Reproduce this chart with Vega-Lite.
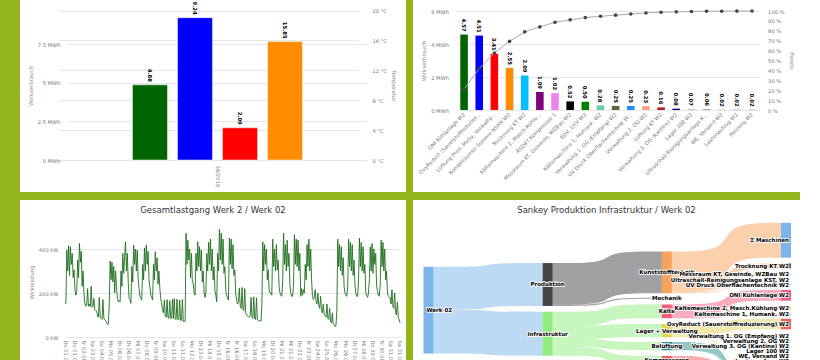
{
"$schema":"https://vega.github.io/schema/vega-lite/v6.json",
"background":"#94b41c",
"padding":{"left":20,"top":0,"right":0,"bottom":0},
"columns":2,
"spacing":{"row":8,"column":7},
"bounds":"flush",
"resolve":{"scale":{"color":"independent"}},
"config":{
 "font":"DejaVu Sans",
 "view":{"fill":"white","stroke":null},
 "axis":{"labelFont":"DejaVu Sans","labelFontSize":5.2,"labelColor":"#777","titleFont":"DejaVu Sans","titleFontSize":5.5,"titleColor":"#888","titleFontWeight":"normal","domain":false,"ticks":false,"gridColor":"#e6e6e6","gridWidth":1,"labelOverlap":false},
 "title":{"font":"DejaVu Sans","fontSize":8.5,"fontWeight":"normal","color":"#333","anchor":"middle","baseline":"top","offset":-14}
},
"datasets":{
 "last":[
{"t":"2019-08-01T00:00","kw":155},{"t":"2019-08-01T02:00","kw":152},{"t":"2019-08-01T04:00","kw":395},{"t":"2019-08-01T06:00","kw":300},{"t":"2019-08-01T08:00","kw":415},{"t":"2019-08-01T10:00","kw":280},{"t":"2019-08-01T12:00","kw":410},{"t":"2019-08-01T14:00","kw":330},{"t":"2019-08-01T16:00","kw":380},{"t":"2019-08-01T18:00","kw":270},{"t":"2019-08-01T20:00","kw":305},{"t":"2019-08-01T22:00","kw":215},
{"t":"2019-08-02T00:00","kw":190},{"t":"2019-08-02T02:00","kw":205},{"t":"2019-08-02T04:00","kw":350},{"t":"2019-08-02T06:00","kw":270},{"t":"2019-08-02T08:00","kw":425},{"t":"2019-08-02T10:00","kw":340},{"t":"2019-08-02T12:00","kw":390},{"t":"2019-08-02T14:00","kw":230},{"t":"2019-08-02T16:00","kw":300},{"t":"2019-08-02T18:00","kw":200},{"t":"2019-08-02T20:00","kw":150},{"t":"2019-08-02T22:00","kw":140},
{"t":"2019-08-03T00:00","kw":145},{"t":"2019-08-03T02:00","kw":220},{"t":"2019-08-03T04:00","kw":140},{"t":"2019-08-03T06:00","kw":150},{"t":"2019-08-03T08:00","kw":138},{"t":"2019-08-03T10:00","kw":230},{"t":"2019-08-03T12:00","kw":135},{"t":"2019-08-03T14:00","kw":140},{"t":"2019-08-03T16:00","kw":175},{"t":"2019-08-03T18:00","kw":125},{"t":"2019-08-03T20:00","kw":120},{"t":"2019-08-03T22:00","kw":118},
{"t":"2019-08-04T00:00","kw":95},{"t":"2019-08-04T02:00","kw":90},{"t":"2019-08-04T04:00","kw":180},{"t":"2019-08-04T06:00","kw":88},{"t":"2019-08-04T08:00","kw":85},{"t":"2019-08-04T10:00","kw":80},{"t":"2019-08-04T12:00","kw":170},{"t":"2019-08-04T14:00","kw":85},{"t":"2019-08-04T16:00","kw":78},{"t":"2019-08-04T18:00","kw":75},{"t":"2019-08-04T20:00","kw":65},{"t":"2019-08-04T22:00","kw":58},
{"t":"2019-08-05T00:00","kw":58},{"t":"2019-08-05T02:00","kw":150},{"t":"2019-08-05T04:00","kw":345},{"t":"2019-08-05T06:00","kw":260},{"t":"2019-08-05T08:00","kw":340},{"t":"2019-08-05T10:00","kw":250},{"t":"2019-08-05T12:00","kw":320},{"t":"2019-08-05T14:00","kw":200},{"t":"2019-08-05T16:00","kw":300},{"t":"2019-08-05T18:00","kw":230},{"t":"2019-08-05T20:00","kw":175},{"t":"2019-08-05T22:00","kw":160},
{"t":"2019-08-06T00:00","kw":165},{"t":"2019-08-06T02:00","kw":160},{"t":"2019-08-06T04:00","kw":300},{"t":"2019-08-06T06:00","kw":230},{"t":"2019-08-06T08:00","kw":380},{"t":"2019-08-06T10:00","kw":290},{"t":"2019-08-06T12:00","kw":365},{"t":"2019-08-06T14:00","kw":433},{"t":"2019-08-06T16:00","kw":300},{"t":"2019-08-06T18:00","kw":380},{"t":"2019-08-06T20:00","kw":250},{"t":"2019-08-06T22:00","kw":175},
{"t":"2019-08-07T00:00","kw":170},{"t":"2019-08-07T02:00","kw":153},{"t":"2019-08-07T04:00","kw":320},{"t":"2019-08-07T06:00","kw":250},{"t":"2019-08-07T08:00","kw":418},{"t":"2019-08-07T10:00","kw":330},{"t":"2019-08-07T12:00","kw":400},{"t":"2019-08-07T14:00","kw":300},{"t":"2019-08-07T16:00","kw":395},{"t":"2019-08-07T18:00","kw":260},{"t":"2019-08-07T20:00","kw":220},{"t":"2019-08-07T22:00","kw":185},
{"t":"2019-08-08T00:00","kw":175},{"t":"2019-08-08T02:00","kw":168},{"t":"2019-08-08T04:00","kw":330},{"t":"2019-08-08T06:00","kw":260},{"t":"2019-08-08T08:00","kw":405},{"t":"2019-08-08T10:00","kw":300},{"t":"2019-08-08T12:00","kw":418},{"t":"2019-08-08T14:00","kw":330},{"t":"2019-08-08T16:00","kw":390},{"t":"2019-08-08T18:00","kw":260},{"t":"2019-08-08T20:00","kw":230},{"t":"2019-08-08T22:00","kw":190},
{"t":"2019-08-09T00:00","kw":180},{"t":"2019-08-09T02:00","kw":168},{"t":"2019-08-09T04:00","kw":330},{"t":"2019-08-09T06:00","kw":260},{"t":"2019-08-09T08:00","kw":388},{"t":"2019-08-09T10:00","kw":300},{"t":"2019-08-09T12:00","kw":360},{"t":"2019-08-09T14:00","kw":240},{"t":"2019-08-09T16:00","kw":300},{"t":"2019-08-09T18:00","kw":222},{"t":"2019-08-09T20:00","kw":175},{"t":"2019-08-09T22:00","kw":150},
{"t":"2019-08-10T00:00","kw":125},{"t":"2019-08-10T02:00","kw":110},{"t":"2019-08-10T04:00","kw":168},{"t":"2019-08-10T06:00","kw":95},{"t":"2019-08-10T08:00","kw":90},{"t":"2019-08-10T10:00","kw":170},{"t":"2019-08-10T12:00","kw":88},{"t":"2019-08-10T14:00","kw":85},{"t":"2019-08-10T16:00","kw":165},{"t":"2019-08-10T18:00","kw":86},{"t":"2019-08-10T20:00","kw":84},{"t":"2019-08-10T22:00","kw":170},
{"t":"2019-08-11T00:00","kw":85},{"t":"2019-08-11T02:00","kw":175},{"t":"2019-08-11T04:00","kw":82},{"t":"2019-08-11T06:00","kw":80},{"t":"2019-08-11T08:00","kw":172},{"t":"2019-08-11T10:00","kw":78},{"t":"2019-08-11T12:00","kw":80},{"t":"2019-08-11T14:00","kw":168},{"t":"2019-08-11T16:00","kw":76},{"t":"2019-08-11T18:00","kw":75},{"t":"2019-08-11T20:00","kw":170},{"t":"2019-08-11T22:00","kw":70},
{"t":"2019-08-12T00:00","kw":72},{"t":"2019-08-12T02:00","kw":70},{"t":"2019-08-12T04:00","kw":472},{"t":"2019-08-12T06:00","kw":330},{"t":"2019-08-12T08:00","kw":440},{"t":"2019-08-12T10:00","kw":350},{"t":"2019-08-12T12:00","kw":400},{"t":"2019-08-12T14:00","kw":270},{"t":"2019-08-12T16:00","kw":380},{"t":"2019-08-12T18:00","kw":250},{"t":"2019-08-12T20:00","kw":245},{"t":"2019-08-12T22:00","kw":200},
{"t":"2019-08-13T00:00","kw":190},{"t":"2019-08-13T02:00","kw":380},{"t":"2019-08-13T04:00","kw":300},{"t":"2019-08-13T06:00","kw":433},{"t":"2019-08-13T08:00","kw":320},{"t":"2019-08-13T10:00","kw":410},{"t":"2019-08-13T12:00","kw":300},{"t":"2019-08-13T14:00","kw":395},{"t":"2019-08-13T16:00","kw":250},{"t":"2019-08-13T18:00","kw":300},{"t":"2019-08-13T20:00","kw":200},{"t":"2019-08-13T22:00","kw":180},
{"t":"2019-08-14T00:00","kw":200},{"t":"2019-08-14T02:00","kw":380},{"t":"2019-08-14T04:00","kw":300},{"t":"2019-08-14T06:00","kw":430},{"t":"2019-08-14T08:00","kw":330},{"t":"2019-08-14T10:00","kw":445},{"t":"2019-08-14T12:00","kw":300},{"t":"2019-08-14T14:00","kw":400},{"t":"2019-08-14T16:00","kw":260},{"t":"2019-08-14T18:00","kw":320},{"t":"2019-08-14T20:00","kw":210},{"t":"2019-08-14T22:00","kw":190},
{"t":"2019-08-15T00:00","kw":160},{"t":"2019-08-15T02:00","kw":380},{"t":"2019-08-15T04:00","kw":300},{"t":"2019-08-15T06:00","kw":490},{"t":"2019-08-15T08:00","kw":350},{"t":"2019-08-15T10:00","kw":472},{"t":"2019-08-15T12:00","kw":330},{"t":"2019-08-15T14:00","kw":445},{"t":"2019-08-15T16:00","kw":290},{"t":"2019-08-15T18:00","kw":320},{"t":"2019-08-15T20:00","kw":210},{"t":"2019-08-15T22:00","kw":190},
{"t":"2019-08-16T00:00","kw":175},{"t":"2019-08-16T02:00","kw":168},{"t":"2019-08-16T04:00","kw":450},{"t":"2019-08-16T06:00","kw":330},{"t":"2019-08-16T08:00","kw":445},{"t":"2019-08-16T10:00","kw":310},{"t":"2019-08-16T12:00","kw":420},{"t":"2019-08-16T14:00","kw":280},{"t":"2019-08-16T16:00","kw":305},{"t":"2019-08-16T18:00","kw":200},{"t":"2019-08-16T20:00","kw":168},{"t":"2019-08-16T22:00","kw":150},
{"t":"2019-08-17T00:00","kw":160},{"t":"2019-08-17T02:00","kw":222},{"t":"2019-08-17T04:00","kw":140},{"t":"2019-08-17T06:00","kw":130},{"t":"2019-08-17T08:00","kw":225},{"t":"2019-08-17T10:00","kw":125},{"t":"2019-08-17T12:00","kw":120},{"t":"2019-08-17T14:00","kw":220},{"t":"2019-08-17T16:00","kw":110},{"t":"2019-08-17T18:00","kw":100},{"t":"2019-08-17T20:00","kw":95},{"t":"2019-08-17T22:00","kw":92},
{"t":"2019-08-18T00:00","kw":90},{"t":"2019-08-18T02:00","kw":95},{"t":"2019-08-18T04:00","kw":180},{"t":"2019-08-18T06:00","kw":88},{"t":"2019-08-18T08:00","kw":85},{"t":"2019-08-18T10:00","kw":182},{"t":"2019-08-18T12:00","kw":82},{"t":"2019-08-18T14:00","kw":80},{"t":"2019-08-18T16:00","kw":178},{"t":"2019-08-18T18:00","kw":78},{"t":"2019-08-18T20:00","kw":75},{"t":"2019-08-18T22:00","kw":72},
{"t":"2019-08-19T00:00","kw":75},{"t":"2019-08-19T02:00","kw":72},{"t":"2019-08-19T04:00","kw":150},{"t":"2019-08-19T06:00","kw":433},{"t":"2019-08-19T08:00","kw":300},{"t":"2019-08-19T10:00","kw":420},{"t":"2019-08-19T12:00","kw":330},{"t":"2019-08-19T14:00","kw":400},{"t":"2019-08-19T16:00","kw":260},{"t":"2019-08-19T18:00","kw":305},{"t":"2019-08-19T20:00","kw":214},{"t":"2019-08-19T22:00","kw":200},
{"t":"2019-08-20T00:00","kw":200},{"t":"2019-08-20T02:00","kw":190},{"t":"2019-08-20T04:00","kw":445},{"t":"2019-08-20T06:00","kw":320},{"t":"2019-08-20T08:00","kw":400},{"t":"2019-08-20T10:00","kw":300},{"t":"2019-08-20T12:00","kw":420},{"t":"2019-08-20T14:00","kw":305},{"t":"2019-08-20T16:00","kw":350},{"t":"2019-08-20T18:00","kw":230},{"t":"2019-08-20T20:00","kw":200},{"t":"2019-08-20T22:00","kw":190},
{"t":"2019-08-21T00:00","kw":185},{"t":"2019-08-21T02:00","kw":250},{"t":"2019-08-21T04:00","kw":472},{"t":"2019-08-21T06:00","kw":330},{"t":"2019-08-21T08:00","kw":420},{"t":"2019-08-21T10:00","kw":300},{"t":"2019-08-21T12:00","kw":440},{"t":"2019-08-21T14:00","kw":320},{"t":"2019-08-21T16:00","kw":380},{"t":"2019-08-21T18:00","kw":240},{"t":"2019-08-21T20:00","kw":200},{"t":"2019-08-21T22:00","kw":185},
{"t":"2019-08-22T00:00","kw":185},{"t":"2019-08-22T02:00","kw":230},{"t":"2019-08-22T04:00","kw":465},{"t":"2019-08-22T06:00","kw":330},{"t":"2019-08-22T08:00","kw":445},{"t":"2019-08-22T10:00","kw":320},{"t":"2019-08-22T12:00","kw":440},{"t":"2019-08-22T14:00","kw":300},{"t":"2019-08-22T16:00","kw":380},{"t":"2019-08-22T18:00","kw":185},{"t":"2019-08-22T20:00","kw":220},{"t":"2019-08-22T22:00","kw":190},
{"t":"2019-08-23T00:00","kw":215},{"t":"2019-08-23T02:00","kw":200},{"t":"2019-08-23T04:00","kw":330},{"t":"2019-08-23T06:00","kw":260},{"t":"2019-08-23T08:00","kw":420},{"t":"2019-08-23T10:00","kw":320},{"t":"2019-08-23T12:00","kw":445},{"t":"2019-08-23T14:00","kw":300},{"t":"2019-08-23T16:00","kw":400},{"t":"2019-08-23T18:00","kw":260},{"t":"2019-08-23T20:00","kw":185},{"t":"2019-08-23T22:00","kw":170},
{"t":"2019-08-24T00:00","kw":180},{"t":"2019-08-24T02:00","kw":215},{"t":"2019-08-24T04:00","kw":160},{"t":"2019-08-24T06:00","kw":150},{"t":"2019-08-24T08:00","kw":200},{"t":"2019-08-24T10:00","kw":140},{"t":"2019-08-24T12:00","kw":130},{"t":"2019-08-24T14:00","kw":185},{"t":"2019-08-24T16:00","kw":120},{"t":"2019-08-24T18:00","kw":110},{"t":"2019-08-24T20:00","kw":150},{"t":"2019-08-24T22:00","kw":100},
{"t":"2019-08-25T00:00","kw":95},{"t":"2019-08-25T02:00","kw":90},{"t":"2019-08-25T04:00","kw":150},{"t":"2019-08-25T06:00","kw":85},{"t":"2019-08-25T08:00","kw":80},{"t":"2019-08-25T10:00","kw":130},{"t":"2019-08-25T12:00","kw":70},{"t":"2019-08-25T14:00","kw":65},{"t":"2019-08-25T16:00","kw":110},{"t":"2019-08-25T18:00","kw":60},{"t":"2019-08-25T20:00","kw":55},{"t":"2019-08-25T22:00","kw":48},
{"t":"2019-08-26T00:00","kw":50},{"t":"2019-08-26T02:00","kw":120},{"t":"2019-08-26T04:00","kw":445},{"t":"2019-08-26T06:00","kw":320},{"t":"2019-08-26T08:00","kw":420},{"t":"2019-08-26T10:00","kw":300},{"t":"2019-08-26T12:00","kw":410},{"t":"2019-08-26T14:00","kw":280},{"t":"2019-08-26T16:00","kw":360},{"t":"2019-08-26T18:00","kw":230},{"t":"2019-08-26T20:00","kw":200},{"t":"2019-08-26T22:00","kw":190},
{"t":"2019-08-27T00:00","kw":185},{"t":"2019-08-27T02:00","kw":230},{"t":"2019-08-27T04:00","kw":445},{"t":"2019-08-27T06:00","kw":320},{"t":"2019-08-27T08:00","kw":430},{"t":"2019-08-27T10:00","kw":300},{"t":"2019-08-27T12:00","kw":420},{"t":"2019-08-27T14:00","kw":280},{"t":"2019-08-27T16:00","kw":350},{"t":"2019-08-27T18:00","kw":240},{"t":"2019-08-27T20:00","kw":200},{"t":"2019-08-27T22:00","kw":185},
{"t":"2019-08-28T00:00","kw":185},{"t":"2019-08-28T02:00","kw":260},{"t":"2019-08-28T04:00","kw":450},{"t":"2019-08-28T06:00","kw":320},{"t":"2019-08-28T08:00","kw":430},{"t":"2019-08-28T10:00","kw":300},{"t":"2019-08-28T12:00","kw":410},{"t":"2019-08-28T14:00","kw":290},{"t":"2019-08-28T16:00","kw":330},{"t":"2019-08-28T18:00","kw":200},{"t":"2019-08-28T20:00","kw":190},{"t":"2019-08-28T22:00","kw":180},
{"t":"2019-08-29T00:00","kw":200},{"t":"2019-08-29T02:00","kw":260},{"t":"2019-08-29T04:00","kw":410},{"t":"2019-08-29T06:00","kw":300},{"t":"2019-08-29T08:00","kw":425},{"t":"2019-08-29T10:00","kw":290},{"t":"2019-08-29T12:00","kw":400},{"t":"2019-08-29T14:00","kw":330},{"t":"2019-08-29T16:00","kw":380},{"t":"2019-08-29T18:00","kw":230},{"t":"2019-08-29T20:00","kw":210},{"t":"2019-08-29T22:00","kw":190},
{"t":"2019-08-30T00:00","kw":185},{"t":"2019-08-30T02:00","kw":240},{"t":"2019-08-30T04:00","kw":440},{"t":"2019-08-30T06:00","kw":320},{"t":"2019-08-30T08:00","kw":430},{"t":"2019-08-30T10:00","kw":300},{"t":"2019-08-30T12:00","kw":400},{"t":"2019-08-30T14:00","kw":260},{"t":"2019-08-30T16:00","kw":300},{"t":"2019-08-30T18:00","kw":200},{"t":"2019-08-30T20:00","kw":185},{"t":"2019-08-30T22:00","kw":180},
{"t":"2019-08-31T00:00","kw":180},{"t":"2019-08-31T02:00","kw":150},{"t":"2019-08-31T04:00","kw":215},{"t":"2019-08-31T06:00","kw":140},{"t":"2019-08-31T08:00","kw":130},{"t":"2019-08-31T10:00","kw":200},{"t":"2019-08-31T12:00","kw":110},{"t":"2019-08-31T14:00","kw":100},{"t":"2019-08-31T16:00","kw":160},{"t":"2019-08-31T18:00","kw":90},{"t":"2019-08-31T20:00","kw":80},{"t":"2019-08-31T22:00","kw":64}
 ],
 "nodes":[
{"node":"Werk 02","col":0,"y0":20.0,"y1":57.10,"mid":38.55},
{"node":"Produktion","col":1,"y0":18.4,"y1":36.72,"mid":27.56},
{"node":"Infrastruktur","col":1,"y0":39.2,"y1":57.98,"mid":48.59},
{"node":"Kunststofftechnik","col":2,"y0":13.5,"y1":31.32,"mid":22.41},
{"node":"Mechanik","col":2,"y0":33.2,"y1":33.7,"mid":33.45},
{"node":"Kälte","col":2,"y0":36.1,"y1":42.04,"mid":39.07},
{"node":"Lager + Verwaltung","col":2,"y0":44.4,"y1":50.1,"mid":47.25},
{"node":"Belüftung","col":2,"y0":52.1,"y1":55.67,"mid":53.89},
{"node":"Kompressoren","col":2,"y0":58.1,"y1":61.67,"mid":59.89},
{"node":"Σ Maschinen","col":3,"y0":1.2,"y1":16.1,"mid":8.65},
{"node":"Trocknung KT W2","col":3,"y0":18.6,"y1":20.69,"mid":19.65},
{"node":"Messraum KT, Gewinde, WZBau W2","col":3,"y0":22.9,"y1":23.42,"mid":23.16},
{"node":"Ultraschall-Reinigungsanlage KST, W2","col":3,"y0":25.4,"y1":25.46,"mid":25.43},
{"node":"UV Druck Oberflächentechnik W2","col":3,"y0":27.6,"y1":27.85,"mid":27.73},
{"node":"ONI Kühlanlage W2","col":3,"y0":29.9,"y1":34.47,"mid":32.19},
{"node":"Kältemaschine 2, Masch.Kühlung W2","col":3,"y0":37.0,"y1":38.09,"mid":37.55},
{"node":"Kältemaschine 1, Humank. W2","col":3,"y0":40.2,"y1":40.48,"mid":40.34},
{"node":"OxyReduct (Sauerstoffreduzierung) W2","col":3,"y0":42.2,"y1":46.71,"mid":44.46},
{"node":"Verwaltung 1. OG (Empfang) W2","col":3,"y0":49.3,"y1":49.55,"mid":49.43},
{"node":"Verwaltung 2. OG W2","col":3,"y0":51.6,"y1":51.83,"mid":51.72},
{"node":"Verwaltung 3. OG (Kantine) W2","col":3,"y0":53.95,"y1":54.03,"mid":53.99},
{"node":"Lager 100 W2","col":3,"y0":55.95,"y1":56.02,"mid":55.99},
{"node":"WE, Versand W2","col":3,"y0":57.98,"y1":58.0,"mid":57.99},
{"node":"Lastenaufzug W2","col":3,"y0":60.3,"y1":60.32,"mid":60.31},
{"node":"Heizung W2","col":3,"y0":62.5,"y1":62.52,"mid":62.51},
{"node":"EDV, USV W2","col":3,"y0":64.5,"y1":65.0,"mid":64.75},
{"node":"Lüftung Prod. MoSy, Verwaltg. W2","col":3,"y0":67.0,"y1":70.41,"mid":68.7},
{"node":"Lüftung KT W2","col":3,"y0":72.5,"y1":72.66,"mid":72.58},
{"node":"Kompressoren Summe NSHV W2","col":3,"y0":75.0,"y1":77.55,"mid":76.28},
{"node":"ASD47 Kompressor 1","col":3,"y0":79.5,"y1":80.52,"mid":80.01}
 ],
 "links":[
{"link":"L1","src":"Werk 02","x":0.041,"y0":20.0,"y1":38.32},{"link":"L1","src":"Werk 02","x":0.49,"y0":20.0,"y1":38.32},{"link":"L1","src":"Werk 02","x":0.51,"y0":18.4,"y1":36.72},{"link":"L1","src":"Werk 02","x":0.959,"y0":18.4,"y1":36.72},
{"link":"L2","src":"Werk 02","x":0.041,"y0":38.32,"y1":57.10},{"link":"L2","src":"Werk 02","x":0.49,"y0":38.32,"y1":57.10},{"link":"L2","src":"Werk 02","x":0.51,"y0":39.2,"y1":57.98},{"link":"L2","src":"Werk 02","x":0.959,"y0":39.2,"y1":57.98},
{"link":"L3","src":"Produktion","x":1.041,"y0":18.4,"y1":36.22},{"link":"L3","src":"Produktion","x":1.49,"y0":18.4,"y1":36.22},{"link":"L3","src":"Produktion","x":1.51,"y0":13.5,"y1":31.32},{"link":"L3","src":"Produktion","x":1.959,"y0":13.5,"y1":31.32},
{"link":"L4","src":"Produktion","x":1.041,"y0":36.22,"y1":36.72},{"link":"L4","src":"Produktion","x":1.49,"y0":36.22,"y1":36.72},{"link":"L4","src":"Produktion","x":1.51,"y0":33.2,"y1":33.7},{"link":"L4","src":"Produktion","x":1.959,"y0":33.2,"y1":33.7},
{"link":"L5","src":"Infrastruktur","x":1.041,"y0":39.2,"y1":45.14},{"link":"L5","src":"Infrastruktur","x":1.49,"y0":39.2,"y1":45.14},{"link":"L5","src":"Infrastruktur","x":1.51,"y0":36.1,"y1":42.04},{"link":"L5","src":"Infrastruktur","x":1.959,"y0":36.1,"y1":42.04},
{"link":"L6","src":"Infrastruktur","x":1.041,"y0":45.14,"y1":50.84},{"link":"L6","src":"Infrastruktur","x":1.49,"y0":45.14,"y1":50.84},{"link":"L6","src":"Infrastruktur","x":1.51,"y0":44.4,"y1":50.1},{"link":"L6","src":"Infrastruktur","x":1.959,"y0":44.4,"y1":50.1},
{"link":"L7","src":"Infrastruktur","x":1.041,"y0":50.84,"y1":54.41},{"link":"L7","src":"Infrastruktur","x":1.49,"y0":50.84,"y1":54.41},{"link":"L7","src":"Infrastruktur","x":1.51,"y0":52.1,"y1":55.67},{"link":"L7","src":"Infrastruktur","x":1.959,"y0":52.1,"y1":55.67},
{"link":"L8","src":"Infrastruktur","x":1.041,"y0":54.41,"y1":57.98},{"link":"L8","src":"Infrastruktur","x":1.49,"y0":54.41,"y1":57.98},{"link":"L8","src":"Infrastruktur","x":1.51,"y0":58.1,"y1":61.67},{"link":"L8","src":"Infrastruktur","x":1.959,"y0":58.1,"y1":61.67},
{"link":"L9","src":"Kunststofftechnik","x":2.041,"y0":13.5,"y1":28.4},{"link":"L9","src":"Kunststofftechnik","x":2.49,"y0":13.5,"y1":28.4},{"link":"L9","src":"Kunststofftechnik","x":2.51,"y0":1.2,"y1":16.1},{"link":"L9","src":"Kunststofftechnik","x":2.959,"y0":1.2,"y1":16.1},
{"link":"L10","src":"Kunststofftechnik","x":2.041,"y0":28.4,"y1":30.49},{"link":"L10","src":"Kunststofftechnik","x":2.49,"y0":28.4,"y1":30.49},{"link":"L10","src":"Kunststofftechnik","x":2.51,"y0":18.6,"y1":20.69},{"link":"L10","src":"Kunststofftechnik","x":2.959,"y0":18.6,"y1":20.69},
{"link":"L11","src":"Kunststofftechnik","x":2.041,"y0":30.49,"y1":31.01},{"link":"L11","src":"Kunststofftechnik","x":2.49,"y0":30.49,"y1":31.01},{"link":"L11","src":"Kunststofftechnik","x":2.51,"y0":22.9,"y1":23.42},{"link":"L11","src":"Kunststofftechnik","x":2.959,"y0":22.9,"y1":23.42},
{"link":"L12","src":"Kunststofftechnik","x":2.041,"y0":31.01,"y1":31.07},{"link":"L12","src":"Kunststofftechnik","x":2.49,"y0":31.01,"y1":31.07},{"link":"L12","src":"Kunststofftechnik","x":2.51,"y0":25.4,"y1":25.46},{"link":"L12","src":"Kunststofftechnik","x":2.959,"y0":25.4,"y1":25.46},
{"link":"L13","src":"Kunststofftechnik","x":2.041,"y0":31.07,"y1":31.32},{"link":"L13","src":"Kunststofftechnik","x":2.49,"y0":31.07,"y1":31.32},{"link":"L13","src":"Kunststofftechnik","x":2.51,"y0":27.6,"y1":27.85},{"link":"L13","src":"Kunststofftechnik","x":2.959,"y0":27.6,"y1":27.85},
{"link":"L14","src":"Kälte","x":2.041,"y0":36.1,"y1":40.67},{"link":"L14","src":"Kälte","x":2.49,"y0":36.1,"y1":40.67},{"link":"L14","src":"Kälte","x":2.51,"y0":29.9,"y1":34.47},{"link":"L14","src":"Kälte","x":2.959,"y0":29.9,"y1":34.47},
{"link":"L15","src":"Kälte","x":2.041,"y0":40.67,"y1":41.76},{"link":"L15","src":"Kälte","x":2.49,"y0":40.67,"y1":41.76},{"link":"L15","src":"Kälte","x":2.51,"y0":37.0,"y1":38.09},{"link":"L15","src":"Kälte","x":2.959,"y0":37.0,"y1":38.09},
{"link":"L16","src":"Kälte","x":2.041,"y0":41.76,"y1":42.04},{"link":"L16","src":"Kälte","x":2.49,"y0":41.76,"y1":42.04},{"link":"L16","src":"Kälte","x":2.51,"y0":40.2,"y1":40.48},{"link":"L16","src":"Kälte","x":2.959,"y0":40.2,"y1":40.48},
{"link":"L17","src":"Lager + Verwaltung","x":2.041,"y0":44.4,"y1":48.91},{"link":"L17","src":"Lager + Verwaltung","x":2.49,"y0":44.4,"y1":48.91},{"link":"L17","src":"Lager + Verwaltung","x":2.51,"y0":42.2,"y1":46.71},{"link":"L17","src":"Lager + Verwaltung","x":2.959,"y0":42.2,"y1":46.71},
{"link":"L18","src":"Lager + Verwaltung","x":2.041,"y0":48.91,"y1":49.16},{"link":"L18","src":"Lager + Verwaltung","x":2.49,"y0":48.91,"y1":49.16},{"link":"L18","src":"Lager + Verwaltung","x":2.51,"y0":49.3,"y1":49.55},{"link":"L18","src":"Lager + Verwaltung","x":2.959,"y0":49.3,"y1":49.55},
{"link":"L19","src":"Lager + Verwaltung","x":2.041,"y0":49.16,"y1":49.39},{"link":"L19","src":"Lager + Verwaltung","x":2.49,"y0":49.16,"y1":49.39},{"link":"L19","src":"Lager + Verwaltung","x":2.51,"y0":51.6,"y1":51.83},{"link":"L19","src":"Lager + Verwaltung","x":2.959,"y0":51.6,"y1":51.83},
{"link":"L20","src":"Lager + Verwaltung","x":2.041,"y0":49.39,"y1":49.47},{"link":"L20","src":"Lager + Verwaltung","x":2.49,"y0":49.39,"y1":49.47},{"link":"L20","src":"Lager + Verwaltung","x":2.51,"y0":53.95,"y1":54.03},{"link":"L20","src":"Lager + Verwaltung","x":2.959,"y0":53.95,"y1":54.03},
{"link":"L21","src":"Lager + Verwaltung","x":2.041,"y0":49.47,"y1":49.54},{"link":"L21","src":"Lager + Verwaltung","x":2.49,"y0":49.47,"y1":49.54},{"link":"L21","src":"Lager + Verwaltung","x":2.51,"y0":55.95,"y1":56.02},{"link":"L21","src":"Lager + Verwaltung","x":2.959,"y0":55.95,"y1":56.02},
{"link":"L22","src":"Lager + Verwaltung","x":2.041,"y0":49.54,"y1":49.56},{"link":"L22","src":"Lager + Verwaltung","x":2.49,"y0":49.54,"y1":49.56},{"link":"L22","src":"Lager + Verwaltung","x":2.51,"y0":57.98,"y1":58.0},{"link":"L22","src":"Lager + Verwaltung","x":2.959,"y0":57.98,"y1":58.0},
{"link":"L23","src":"Lager + Verwaltung","x":2.041,"y0":49.56,"y1":49.58},{"link":"L23","src":"Lager + Verwaltung","x":2.49,"y0":49.56,"y1":49.58},{"link":"L23","src":"Lager + Verwaltung","x":2.51,"y0":60.3,"y1":60.32},{"link":"L23","src":"Lager + Verwaltung","x":2.959,"y0":60.3,"y1":60.32},
{"link":"L24","src":"Lager + Verwaltung","x":2.041,"y0":49.58,"y1":49.6},{"link":"L24","src":"Lager + Verwaltung","x":2.49,"y0":49.58,"y1":49.6},{"link":"L24","src":"Lager + Verwaltung","x":2.51,"y0":62.5,"y1":62.52},{"link":"L24","src":"Lager + Verwaltung","x":2.959,"y0":62.5,"y1":62.52},
{"link":"L25","src":"Lager + Verwaltung","x":2.041,"y0":49.6,"y1":50.1},{"link":"L25","src":"Lager + Verwaltung","x":2.49,"y0":49.6,"y1":50.1},{"link":"L25","src":"Lager + Verwaltung","x":2.51,"y0":64.5,"y1":65.0},{"link":"L25","src":"Lager + Verwaltung","x":2.959,"y0":64.5,"y1":65.0},
{"link":"L26","src":"Belüftung","x":2.041,"y0":52.1,"y1":55.51},{"link":"L26","src":"Belüftung","x":2.49,"y0":52.1,"y1":55.51},{"link":"L26","src":"Belüftung","x":2.51,"y0":67.0,"y1":70.41},{"link":"L26","src":"Belüftung","x":2.959,"y0":67.0,"y1":70.41},
{"link":"L27","src":"Belüftung","x":2.041,"y0":55.51,"y1":55.67},{"link":"L27","src":"Belüftung","x":2.49,"y0":55.51,"y1":55.67},{"link":"L27","src":"Belüftung","x":2.51,"y0":72.5,"y1":72.66},{"link":"L27","src":"Belüftung","x":2.959,"y0":72.5,"y1":72.66},
{"link":"L28","src":"Kompressoren","x":2.041,"y0":58.1,"y1":60.65},{"link":"L28","src":"Kompressoren","x":2.49,"y0":58.1,"y1":60.65},{"link":"L28","src":"Kompressoren","x":2.51,"y0":75.0,"y1":77.55},{"link":"L28","src":"Kompressoren","x":2.959,"y0":75.0,"y1":77.55},
{"link":"L29","src":"Kompressoren","x":2.041,"y0":60.65,"y1":61.67},{"link":"L29","src":"Kompressoren","x":2.49,"y0":60.65,"y1":61.67},{"link":"L29","src":"Kompressoren","x":2.51,"y0":79.5,"y1":80.52},{"link":"L29","src":"Kompressoren","x":2.959,"y0":79.5,"y1":80.52}
 ]
},
"concat":[
  {
   "width":386,"height":192,
   "data":{"values":[
     {"woche":"34/2019","serie":"Produktion","wert":4.88},
     {"woche":"34/2019","serie":"Gesamt","wert":9.24},
     {"woche":"34/2019","serie":"Infrastruktur","wert":2.09},
     {"woche":"34/2019","serie":"Temperatur","wert":15.85}
   ]},
   "layer":[
    {"transform":[{"filter":"datum.serie !== 'Temperatur'"}],
     "encoding":{
      "x":{"field":"woche","type":"nominal","scale":{"range":[48,347],"paddingInner":0,"paddingOuter":0.379},"axis":{"title":null,"labelAngle":90,"labelAlign":"left","labelBaseline":"middle","labelPadding":5,"offset":-32,"grid":false}},
      "xOffset":{"field":"serie","type":"nominal","scale":{"domain":["Produktion","Gesamt","Infrastruktur","Temperatur"],"paddingInner":0.222,"paddingOuter":0}},
      "y":{"field":"wert","type":"quantitative","scale":{"domain":[0,9.7],"range":[160,10.6],"nice":false},"axis":{"title":"Wirkverbrauch","values":[0,2.5,5,7.5],"labelExpr":"datum.value + ' MWh'","offset":-48,"labelPadding":8,"titlePadding":4,"grid":true}},
      "color":{"field":"serie","type":"nominal","scale":{"domain":["Produktion","Gesamt","Infrastruktur","Temperatur"],"range":["#006400","#0000ff","#ff0000","#ff8c00"]},"legend":null}
     },
     "layer":[
      {"mark":{"type":"bar","stroke":"white","strokeWidth":0.5}},
      {"mark":{"type":"text","angle":90,"align":"right","baseline":"middle","dx":-3,"fontWeight":"bold","fontSize":5.3,"color":"#000"},"encoding":{"text":{"field":"wert","type":"quantitative","format":".2f"},"color":{"value":"#000"}}}
     ]
    },
    {"transform":[{"filter":"datum.serie === 'Temperatur'"}],
     "encoding":{
      "x":{"field":"woche","type":"nominal","scale":{"range":[48,347],"paddingInner":0,"paddingOuter":0.379},"axis":{"title":null,"labelAngle":90,"labelAlign":"left","labelBaseline":"middle","labelPadding":5,"offset":-32,"grid":false}},
      "xOffset":{"field":"serie","type":"nominal","scale":{"domain":["Produktion","Gesamt","Infrastruktur","Temperatur"],"paddingInner":0.222,"paddingOuter":0}},
      "y":{"field":"wert","type":"quantitative","scale":{"domain":[0,20],"range":[160,10.6],"nice":false},"axis":{"orient":"right","title":"Temperatur","titleAngle":90,"values":[0,4,8,12,16,20],"labelExpr":"datum.value + ' °C'","offset":-39,"labelPadding":5,"titlePadding":4,"grid":true}},
      "color":{"field":"serie","type":"nominal","legend":null}
     },
     "layer":[
      {"mark":{"type":"bar","stroke":"white","strokeWidth":0.5}},
      {"mark":{"type":"text","angle":90,"align":"right","baseline":"middle","dx":-3,"fontWeight":"bold","fontSize":5.3,"color":"#000"},"encoding":{"text":{"field":"wert","type":"quantitative","format":".2f"},"color":{"value":"#000"}}}
     ]
    }
   ],
   "resolve":{"scale":{"y":"independent"},"axis":{"y":"independent"}}
  },
  {
   "width":387,"height":192,
   "data":{"values":[
    {"name":"ONI Kühlanlage W2","wert":4.57,"kum":21.06},
    {"name":"OxyReduct (Sauerstoffreduzier...","wert":4.51,"kum":41.84},
    {"name":"Lüftung Prod. MoSy, Verwaltg...","wert":3.41,"kum":57.56},
    {"name":"Kompressoren Summe NSHV W2","wert":2.55,"kum":69.31},
    {"name":"Trocknung KT W2","wert":2.09,"kum":78.94},
    {"name":"Kältemaschine 2, Masch.Kühlu...","wert":1.09,"kum":83.96},
    {"name":"ASD47 Kompressor 1","wert":1.02,"kum":88.66},
    {"name":"Messraum KT, Gewinde, WZBau W2","wert":0.52,"kum":91.06},
    {"name":"EDV, USV W2","wert":0.50,"kum":93.36},
    {"name":"Kältemaschine 1, Humank. W2","wert":0.28,"kum":94.65},
    {"name":"Verwaltung 1. OG (Empfang) W2","wert":0.25,"kum":95.81},
    {"name":"UV Druck Oberflächentechnik W...","wert":0.25,"kum":96.96},
    {"name":"Verwaltung 2. OG W2","wert":0.23,"kum":98.02},
    {"name":"Lüftung KT W2","wert":0.16,"kum":98.76},
    {"name":"Verwaltung 3. OG (Kantine) W2","wert":0.08,"kum":99.12},
    {"name":"Lager 100 W2","wert":0.07,"kum":99.45},
    {"name":"Ultraschall-Reinigungsanlage K...","wert":0.06,"kum":99.72},
    {"name":"WE, Versand W2","wert":0.02,"kum":99.82},
    {"name":"Lastenaufzug W2","wert":0.02,"kum":99.91},
    {"name":"Heizung W2","wert":0.02,"kum":100}
   ]},
   "layer":[
    {"encoding":{
      "x":{"field":"name","type":"nominal","sort":null,"scale":{"range":[43.5,346.6],"paddingInner":0.5,"paddingOuter":0.25},"axis":{"title":null,"labelAngle":-45,"labelAlign":"right","labelBaseline":"middle","labelPadding":3,"offset":-82,"grid":false}},
      "y":{"field":"wert","type":"quantitative","scale":{"domain":[0,6],"range":[110,11],"nice":false},"axis":{"title":"Wirkverbrauch","values":[0,2,4,6],"labelExpr":"datum.value + ' MWh'","offset":-43.5,"labelPadding":8,"titlePadding":4,"grid":true}}
     },
     "layer":[
      {"mark":{"type":"bar"},"encoding":{"color":{"field":"name","type":"nominal","sort":null,"scale":{"range":["#006400","#0000ff","#ff0000","#ff8c00","#00bfff","#800080","#ee82ee","#000000","#008000","#66cdaa","#556b2f","#1e90ff","#ffa07a","#b22222","#00008b","#d8bfd8","#8fbc8f","#cd853f","#4682b4","#808080"]},"legend":null}}},
      {"mark":{"type":"text","angle":90,"align":"right","baseline":"middle","dx":-3,"fontWeight":"bold","fontSize":5.3,"color":"#000"},"encoding":{"text":{"field":"wert","type":"quantitative","format":".2f"}}}
     ]
    },
    {"encoding":{
      "x":{"field":"name","type":"nominal","sort":null,"scale":{"range":[43.5,346.6],"paddingInner":0.5,"paddingOuter":0.25},"axis":{"title":null,"labelAngle":-45,"labelAlign":"right","labelBaseline":"middle","labelPadding":3,"offset":-82,"grid":false}},
      "y":{"field":"kum","type":"quantitative","scale":{"domain":[0,100],"range":[110,11],"nice":false},"axis":{"orient":"right","title":"Pareto","titleAngle":90,"values":[0,10,20,30,40,50,60,70,80,90,100],"labelExpr":"datum.value + ' %'","offset":-40.4,"labelPadding":8,"titlePadding":4,"grid":false}}
     },
     "layer":[
      {"mark":{"type":"line","color":"#aaaaaa","strokeWidth":1}},
      {"mark":{"type":"point","filled":true,"color":"#444444","size":13,"opacity":1}}
     ]
    }
   ],
   "resolve":{"scale":{"y":"independent"},"axis":{"y":"independent"}}
  },
  {
   "width":386,"height":170,
   "title":{"text":"Gesamtlastgang Werk 2 / Werk 02"},
   "data":{"name":"last"},
   "mark":{"type":"line","color":"#1f6e1f","strokeWidth":0.9},
   "encoding":{
    "x":{"field":"t","type":"temporal","scale":{"domain":[{"year":2019,"month":8,"date":1},{"year":2019,"month":9,"date":1}],"range":[45,381]},
      "axis":{"title":null,"grid":false,"offset":-33,"labelAngle":90,"labelAlign":"left","labelBaseline":"middle","labelPadding":3,
       "labelExpr":"['So','Mo','Di','Mi','Do','Fr','Sa'][day(datum.value)] + ' ' + timeFormat(datum.value, '%d.%m. %H:%M')",
       "values":[
        {"year":2019,"month":8,"date":1,"hours":0},{"year":2019,"month":8,"date":1,"hours":20},{"year":2019,"month":8,"date":2,"hours":16},{"year":2019,"month":8,"date":3,"hours":12},{"year":2019,"month":8,"date":4,"hours":8},{"year":2019,"month":8,"date":5,"hours":4},{"year":2019,"month":8,"date":6,"hours":0},{"year":2019,"month":8,"date":6,"hours":20},{"year":2019,"month":8,"date":7,"hours":16},{"year":2019,"month":8,"date":8,"hours":12},{"year":2019,"month":8,"date":9,"hours":8},{"year":2019,"month":8,"date":10,"hours":4},{"year":2019,"month":8,"date":11,"hours":0},{"year":2019,"month":8,"date":11,"hours":20},{"year":2019,"month":8,"date":12,"hours":16},{"year":2019,"month":8,"date":13,"hours":12},{"year":2019,"month":8,"date":14,"hours":8},{"year":2019,"month":8,"date":15,"hours":4},{"year":2019,"month":8,"date":16,"hours":0},{"year":2019,"month":8,"date":16,"hours":20},{"year":2019,"month":8,"date":17,"hours":16},{"year":2019,"month":8,"date":18,"hours":12},{"year":2019,"month":8,"date":19,"hours":8},{"year":2019,"month":8,"date":20,"hours":4},{"year":2019,"month":8,"date":21,"hours":0},{"year":2019,"month":8,"date":21,"hours":20},{"year":2019,"month":8,"date":22,"hours":16},{"year":2019,"month":8,"date":23,"hours":12},{"year":2019,"month":8,"date":24,"hours":8},{"year":2019,"month":8,"date":25,"hours":4},{"year":2019,"month":8,"date":26,"hours":0},{"year":2019,"month":8,"date":26,"hours":20},{"year":2019,"month":8,"date":27,"hours":16},{"year":2019,"month":8,"date":28,"hours":12},{"year":2019,"month":8,"date":29,"hours":8},{"year":2019,"month":8,"date":30,"hours":4},{"year":2019,"month":8,"date":31,"hours":0},{"year":2019,"month":8,"date":31,"hours":20}
       ]}},
    "y":{"field":"kw","type":"quantitative","scale":{"domain":[0,500],"range":[137,27],"nice":false},"axis":{"title":"Wirkleistung","values":[0,200,400],"labelExpr":"datum.value + ' kW'","offset":-45,"labelPadding":7,"titlePadding":4,"grid":true}}
   }
  },
  {
   "width":387,"height":170,
   "title":{"text":"Sankey Produktion Infrastruktur / Werk 02"},
   "encoding":{
    "x":{"type":"quantitative","scale":{"domain":[0,3],"range":[10.5,378]},"axis":null},
    "y":{"type":"quantitative","scale":{"domain":[0,70],"range":[20,183.8],"nice":false,"zero":false},"axis":null}
   },
   "layer":[
    {"data":{"name":"links"},"mark":{"type":"area","interpolate":"basis","opacity":0.5},
     "encoding":{"x":{"field":"x","type":"quantitative"},"y":{"field":"y0","type":"quantitative","stack":null},"y2":{"field":"y1"},"detail":{"field":"link"},
      "color":{"field":"src","type":"nominal","scale":{"domain":["Werk 02","Produktion","Infrastruktur","Kunststofftechnik","Mechanik","Kälte","Lager + Verwaltung","Belüftung","Kompressoren","Σ Maschinen","Trocknung KT W2","Messraum KT, Gewinde, WZBau W2","Ultraschall-Reinigungsanlage KST, W2","UV Druck Oberflächentechnik W2","ONI Kühlanlage W2","Kältemaschine 2, Masch.Kühlung W2","Kältemaschine 1, Humank. W2","OxyReduct (Sauerstoffreduzierung) W2","Verwaltung 1. OG (Empfang) W2","Verwaltung 2. OG W2","Verwaltung 3. OG (Kantine) W2","Lager 100 W2","WE, Versand W2","Lastenaufzug W2","Heizung W2","EDV, USV W2","Lüftung Prod. MoSy, Verwaltg. W2","Lüftung KT W2","Kompressoren Summe NSHV W2","ASD47 Kompressor 1"],
       "range":["#7cb5ec","#434348","#90ed7d","#f7a35c","#8085e9","#f15c80","#e4d354","#2b908f","#f45b5b","#7cb5ec","#434348","#90ed7d","#f7a35c","#8085e9","#f15c80","#e4d354","#2b908f","#f45b5b","#91e8e1","#7cb5ec","#434348","#90ed7d","#f7a35c","#8085e9","#f15c80","#e4d354","#2b908f","#f45b5b","#91e8e1","#7cb5ec"]},"legend":null}}},
    {"data":{"name":"nodes"},"mark":{"type":"bar","width":10},
     "encoding":{"x":{"field":"col","type":"quantitative"},"y":{"field":"y0","type":"quantitative","stack":null},"y2":{"field":"y1"},"color":{"field":"node","type":"nominal","legend":null}}},
    {"data":{"name":"nodes"},"transform":[{"filter":"datum.col === 0"}],
     "encoding":{"x":{"field":"col","type":"quantitative"},"y":{"field":"mid","type":"quantitative"},"text":{"field":"node"}},
     "layer":[
      {"mark":{"type":"text","align":"left","baseline":"middle","dx":-2,"fontWeight":"bold","fontSize":5.5,"color":"white","stroke":"white","strokeWidth":1.5}},
      {"mark":{"type":"text","align":"left","baseline":"middle","dx":-2,"fontWeight":"bold","fontSize":5.5,"color":"#000"}}
     ]},
    {"data":{"name":"nodes"},"transform":[{"filter":"datum.col === 1 || datum.col === 2"}],
     "encoding":{"x":{"field":"col","type":"quantitative"},"y":{"field":"mid","type":"quantitative"},"text":{"field":"node"}},
     "layer":[
      {"mark":{"type":"text","align":"center","baseline":"middle","fontWeight":"bold","fontSize":5.5,"color":"white","stroke":"white","strokeWidth":1.5}},
      {"mark":{"type":"text","align":"center","baseline":"middle","fontWeight":"bold","fontSize":5.5,"color":"#000"}}
     ]},
    {"data":{"name":"nodes"},"transform":[{"filter":"datum.col === 3"}],
     "encoding":{"x":{"field":"col","type":"quantitative"},"y":{"field":"mid","type":"quantitative"},"text":{"field":"node"}},
     "layer":[
      {"mark":{"type":"text","align":"right","baseline":"middle","dx":3,"fontWeight":"bold","fontSize":5.5,"color":"white","stroke":"white","strokeWidth":1.5}},
      {"mark":{"type":"text","align":"right","baseline":"middle","dx":3,"fontWeight":"bold","fontSize":5.5,"color":"#000"}}
     ]}
   ]
  }
]
}
